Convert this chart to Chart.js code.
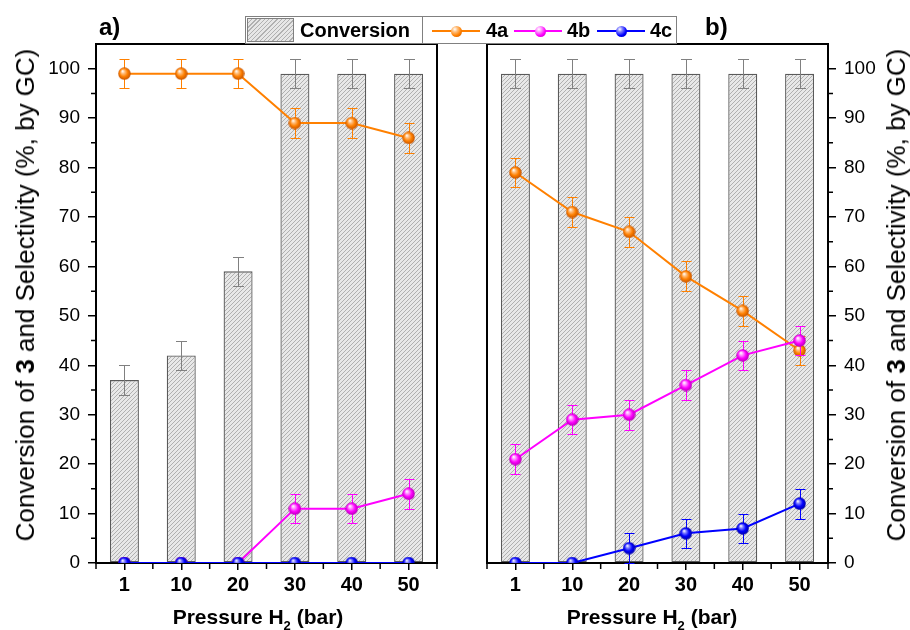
<!DOCTYPE html>
<html>
<head>
<meta charset="utf-8">
<script src="https://cdn.jsdelivr.net/npm/chart.js@4.4.1/dist/chart.umd.min.js"></script>
<style>
html,body{margin:0;padding:0;background:#fff;}
#wrap{position:relative;width:910px;height:630px;overflow:hidden;font-family:"Liberation Sans",Arial,sans-serif;color:#000;}
#cA{position:absolute;left:0;top:0;}
#cB{position:absolute;left:460px;top:0;}
.abs{position:absolute;white-space:nowrap;line-height:1;}
.b{font-weight:bold;}
.ytitle{position:absolute;font-size:26px;line-height:1;white-space:nowrap;transform:translate(-50%,-50%) rotate(-90deg);}
.xtitle{position:absolute;font-size:21px;font-weight:bold;line-height:1;white-space:nowrap;transform:translateX(-50%);}
.box{position:absolute;box-sizing:border-box;border:1px solid #808080;background:#fff;}
.ln{position:absolute;height:2px;}
.ball{position:absolute;width:11px;height:11px;border-radius:50%;}
</style>
</head>
<body>
<div id="wrap">
  <canvas id="cA" width="460" height="630"></canvas>
  <canvas id="cB" width="450" height="630"></canvas>

  <div class="abs b" style="left:99px;top:15px;font-size:24px;">a)</div>
  <div class="abs b" style="left:705px;top:15px;font-size:24px;">b)</div>

  <div class="ytitle" style="left:25px;top:295px;">Conversion of <b>3</b> and Selectivity (%, by GC)</div>
  <div class="ytitle" style="left:896px;top:295px;">Conversion of <b>3</b> and Selectivity (%, by GC)</div>

  <div class="xtitle" style="left:258px;top:606px;">Pressure H<span style="font-size:13px;position:relative;top:6px;">2</span> (bar)</div>
  <div class="xtitle" style="left:652px;top:606px;">Pressure H<span style="font-size:13px;position:relative;top:6px;">2</span> (bar)</div>

  <!-- legend -->
  <div class="box" style="left:245px;top:16px;width:178px;height:28px;"></div>
  <div class="box" style="left:247px;top:18px;width:47px;height:24px;background:repeating-linear-gradient(-45deg,#e6e6e6 0px,#e6e6e6 2px,#b0b0b0 2px,#b0b0b0 3px);"></div>
  <div class="abs b" style="left:300px;top:20px;font-size:20px;">Conversion</div>

  <div class="box" style="left:422px;top:16px;width:255px;height:28px;"></div>
  <div class="ln" style="left:432px;top:30px;width:48px;background:#FF8000;"></div>
  <div class="ball" style="left:451px;top:25.5px;background:radial-gradient(circle at 35% 30%,#fff 0%,#FFC080 25%,#FF8000 60%,#C05000 100%);"></div>
  <div class="abs b" style="left:486px;top:20px;font-size:20px;">4a</div>
  <div class="ln" style="left:514px;top:30px;width:48px;background:#FF00FF;"></div>
  <div class="ball" style="left:534.5px;top:25.5px;background:radial-gradient(circle at 35% 30%,#fff 0%,#FF99FF 25%,#FF00FF 60%,#B000B0 100%);"></div>
  <div class="abs b" style="left:567px;top:20px;font-size:20px;">4b</div>
  <div class="ln" style="left:597px;top:30px;width:48px;background:#0000FF;"></div>
  <div class="ball" style="left:615.5px;top:25.5px;background:radial-gradient(circle at 35% 30%,#fff 0%,#8080FF 25%,#0000FF 60%,#0000A0 100%);"></div>
  <div class="abs b" style="left:650px;top:20px;font-size:20px;">4c</div>
</div>

<script>
// ---------- data ----------
const categories = ['1', '10', '20', '30', '40', '50'];
const yTickValues = [0, 10, 20, 30, 40, 50, 60, 70, 80, 90, 100];

// panel a)
const convA = [37, 42, 59, 99, 99, 99];
const convAErr = [3, 3, 3, 3, 3, 3];
const sel4aA = [99, 99, 99, 89, 89, 86];
const sel4aAErr = [3, 3, 3, 3, 3, 3];
const sel4bA = [0, 0, 0, 11, 11, 14];
const sel4bAErr = [0, 0, 0, 3, 3, 3];
const sel4cA = [0, 0, 0, 0, 0, 0];
const sel4cAErr = [0, 0, 0, 0, 0, 0];

// panel b)
const convB = [99, 99, 99, 99, 99, 99];
const convBErr = [3, 3, 3, 3, 3, 3];
const sel4aB = [79, 71, 67, 58, 51, 43];
const sel4aBErr = [3, 3, 3, 3, 3, 3];
const sel4bB = [21, 29, 30, 36, 42, 45];
const sel4bBErr = [3, 3, 3, 3, 3, 3];
const sel4cB = [0, 0, 3, 6, 7, 12];
const sel4cBErr = [0, 0, 3, 3, 3, 3];

// ---------- styles ----------
const FONT = "'Liberation Sans', Arial, sans-serif";

function ball(base, light, dark, d) {
  const c = document.createElement('canvas');
  c.width = d; c.height = d;
  const g = c.getContext('2d');
  const r = d / 2;
  const grad = g.createRadialGradient(r * 0.7, r * 0.6, 0.3, r, r, r);
  grad.addColorStop(0, '#ffffff');
  grad.addColorStop(0.25, light);
  grad.addColorStop(0.6, base);
  grad.addColorStop(1, dark);
  g.fillStyle = grad;
  g.beginPath();
  g.arc(r, r, r - 0.3, 0, Math.PI * 2);
  g.fill();
  return c;
}

const ballOrange = ball('#FF8000', '#FFC080', '#C05000', 13);
const ballMagenta = ball('#FF00FF', '#FF99FF', '#B000B0', 13);
const ballBlue = ball('#0000FF', '#8080FF', '#0000A0', 13);

// ---------- plugins ----------
function drawErr(chart, idx, meta) {
  const ds = chart.data.datasets[idx];
  if (!ds.errors) return;
  const y = chart.scales.y;
  const ctx = chart.ctx;
  ctx.save();
  ctx.strokeStyle = ds.errColor;
  ctx.lineWidth = 1;
  meta.data.forEach((el, i) => {
    const e = ds.errors[i];
    if (!e) return;
    const v = ds.data[i];
    const x = Math.round(el.x) + 0.5;
    const yt = Math.round(y.getPixelForValue(v + e)) + 0.5;
    const yb = Math.round(y.getPixelForValue(v - e)) + 0.5;
    const cw = ds.capWidth / 2;
    ctx.beginPath();
    ctx.moveTo(x, yt); ctx.lineTo(x, yb);
    ctx.moveTo(x - cw, yt); ctx.lineTo(x + cw, yt);
    ctx.moveTo(x - cw, yb); ctx.lineTo(x + cw, yb);
    ctx.stroke();
  });
  ctx.restore();
}

const errorBars = {
  id: 'errorBars',
  beforeDatasetDraw(chart, args) {
    const ds = chart.data.datasets[args.index];
    if (!ds.errOnTop) drawErr(chart, args.index, args.meta);
  },
  afterDatasetDraw(chart, args) {
    const ds = chart.data.datasets[args.index];
    if (ds.errOnTop) drawErr(chart, args.index, args.meta);
  }
};

const frameAndMinor = {
  id: 'frameAndMinor',
  beforeDatasetsDraw(chart) {
    const ctx = chart.ctx, a = chart.chartArea, x = chart.scales.x, y = chart.scales.y;
    const right = y.position === 'right';
    ctx.save();
    ctx.strokeStyle = '#000';
    ctx.lineWidth = 1.5;
    ctx.beginPath();
    for (let v = 5; v < 105; v += 10) {
      const py = y.getPixelForValue(v);
      if (right) { ctx.moveTo(a.right, py); ctx.lineTo(a.right + 5, py); }
      else { ctx.moveTo(a.left, py); ctx.lineTo(a.left - 5, py); }
    }
    const p0 = x.getPixelForValue(0), step = x.getPixelForValue(1) - p0;
    for (let i = 0; i <= categories.length; i++) {
      const px = p0 + (i - 0.5) * step;
      ctx.moveTo(px, a.bottom); ctx.lineTo(px, a.bottom + 6);
    }
    ctx.stroke();
    ctx.lineWidth = 2;
    ctx.strokeRect(a.left, a.top, a.right - a.left, a.bottom - a.top);
    ctx.restore();
  }
};

// ---------- chart factory ----------
function makeChart(id, side, conv, convErr, s4a, e4a, s4b, e4b, s4c, e4c) {
  const canvas = document.getElementById(id);
  const pat = (function () {
    const s = 4;
    const c = document.createElement('canvas');
    c.width = s; c.height = s;
    const g = c.getContext('2d');
    g.fillStyle = '#e8e8e8';
    g.fillRect(0, 0, s, s);
    g.strokeStyle = '#b0b0b0';
    g.lineWidth = 1;
    g.beginPath();
    g.moveTo(-1, 1); g.lineTo(1, -1);
    g.moveTo(0, s); g.lineTo(s, 0);
    g.moveTo(s - 1, s + 1); g.lineTo(s + 1, s - 1);
    g.stroke();
    return canvas.getContext('2d').createPattern(c, 'repeat');
  })();

  const lineDs = (label, data, errs, color, img, order) => ({
    type: 'line', label, data, errors: errs, errColor: color, capWidth: 10, errOnTop: false,
    borderColor: color, backgroundColor: color, borderWidth: 2,
    pointStyle: img, pointRadius: 7, pointHoverRadius: 7,
    clip: 0, order, tension: 0
  });

  return new Chart(canvas, {
    type: 'bar',
    data: {
      labels: categories,
      datasets: [
        {
          type: 'bar', label: 'Conversion', data: conv, errors: convErr,
          errColor: '#808080', capWidth: 11, errOnTop: true,
          backgroundColor: pat, borderColor: '#5a5a5a', borderWidth: 1.3,
          borderSkipped: false,
          barPercentage: 0.51, categoryPercentage: 1, order: 10
        },
        lineDs('4a', s4a, e4a, '#FF8000', ballOrange, 3),
        lineDs('4b', s4b, e4b, '#FF00FF', ballMagenta, 2),
        lineDs('4c', s4c, e4c, '#0000FF', ballBlue, 1)
      ]
    },
    options: {
      responsive: false,
      animation: false,
      events: [],
      layout: {
        padding: side === 'left'
          ? { left: 0, top: 44, right: 23, bottom: 0 }
          : { left: 27, top: 44, right: 0, bottom: 0 }
      },
      plugins: { legend: { display: false }, tooltip: { enabled: false }, title: { display: false } },
      scales: {
        x: {
          type: 'category',
          offset: true,
          grid: { display: true, drawOnChartArea: false, drawTicks: true, tickLength: 7, offset: false, color: '#000', lineWidth: 1.5 },
          border: { display: true, color: '#000', width: 2 },
          ticks: { font: { family: FONT, size: 20, weight: 'bold' }, color: '#000', padding: 3, maxRotation: 0, autoSkip: false },
          afterFit(scale) { scale.height = 67; }
        },
        y: {
          type: 'linear',
          position: side,
          min: 0, max: 105,
          afterBuildTicks(scale) { scale.ticks = yTickValues.map(v => ({ value: v })); },
          grid: { display: true, drawOnChartArea: false, drawTicks: true, tickLength: 8, color: '#000', lineWidth: 1.5 },
          border: { display: true, color: '#000', width: 2 },
          ticks: { font: { family: FONT, size: 19 }, color: '#000', padding: 8 },
          afterFit(scale) { scale.width = side === 'left' ? 96 : 82; }
        }
      }
    },
    plugins: [frameAndMinor, errorBars]
  });
}

makeChart('cA', 'left', convA, convAErr, sel4aA, sel4aAErr, sel4bA, sel4bAErr, sel4cA, sel4cAErr);
makeChart('cB', 'right', convB, convBErr, sel4aB, sel4aBErr, sel4bB, sel4bBErr, sel4cB, sel4cBErr);
</script>
</body>
</html>
